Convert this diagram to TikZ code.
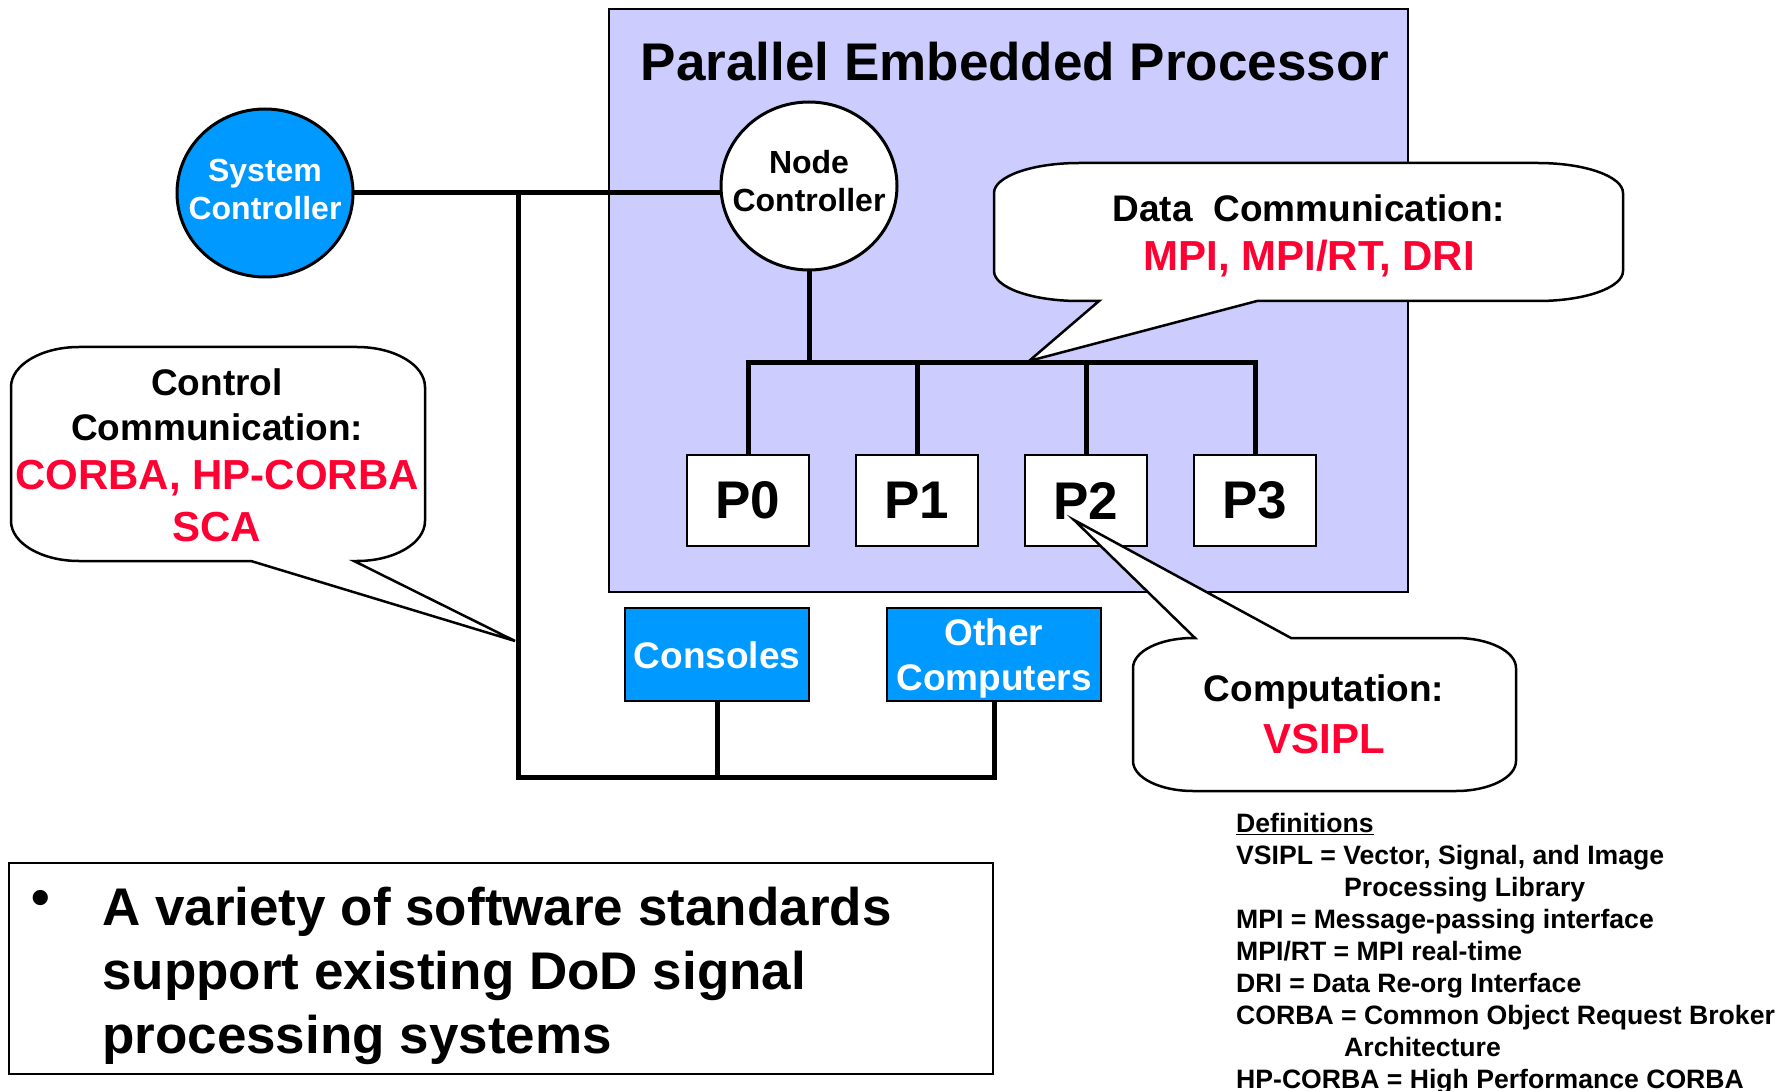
\documentclass[tikz,border=0pt]{standalone}
\usepackage{fontspec}
\setmainfont{Liberation Sans}
\usetikzlibrary{shapes.geometric}

\definecolor{panel}{RGB}{204,204,255}
\definecolor{skyblue}{RGB}{0,153,255}
\definecolor{keyred}{RGB}{255,0,51}

\tikzset{
  bus/.style={line width=5pt, line cap=rect},
  ctrl/.style={ellipse, draw, line width=3pt, minimum width=176pt, minimum height=168pt,
    inner sep=0pt},
  ctrltext/.style={inner sep=0pt, align=center, font=\fontsize{32}{38}\selectfont\bfseries},
  proc/.style={rectangle, draw, line width=2.5pt, fill=white, minimum width=122pt,
    minimum height=91pt, inner sep=0pt, font=\fontsize{53}{60}\selectfont\bfseries},
  host/.style={rectangle, draw, line width=2.5pt, fill=skyblue, inner sep=0pt,
    minimum height=93pt},
  hosttext/.style={inner sep=0pt, align=center, text=white, font=\fontsize{37}{45}\selectfont\bfseries},
  bubble/.style={draw, line width=2.5pt, fill=white, line join=miter},
  lbl/.style={inner sep=0pt, align=center, font=\fontsize{37}{45}\selectfont\bfseries},
  keyw/.style={inner sep=0pt, align=center, text=keyred, font=\fontsize{42}{52}\selectfont\bfseries},
}

\begin{document}
\begin{tikzpicture}[x=1pt, y=-1pt]
\useasboundingbox (0,0) rectangle (1792,1091);
\fill[white] (0,0) rectangle (1792,1091);

% processor panel
\node[draw, line width=2pt, fill=panel, minimum width=799pt, minimum height=583pt,
      inner sep=0pt] (panel) at (1008.5,300.5) {};
\node[inner sep=0pt, font=\fontsize{53}{60}\selectfont\bfseries] (title) at (1015,62)
  {Parallel Embedded Processor};

% controllers
\node[ctrl, fill=skyblue] (sys) at (265,193) {};
\node[ctrltext, text=white] (syslbl) at (265,189) {System\\Controller};
\node[ctrl, fill=white] (nc) at (809,186) {};
\node[ctrltext] (nclbl) at (809,181) {Node\\Controller};

% processors
\node[proc] (p0) at (748,500.5) {P0};
\node[proc] (p1) at (917,500.5) {P1};
\node[proc] (p2) at (1086,500.5) {P2};
\node[proc] (p3) at (1255,500.5) {P3};

% hosts
\node[host, minimum width=184pt] (cons) at (717,654.5) {};
\node[hosttext] (conslbl) at (717,655.5) {Consoles};
\node[host, minimum width=214pt] (other) at (994,654.5) {};
\node[hosttext] (otherlbl) at (994,658.5) {Other\\Computers};

% control network
\coordinate (cbus) at (518,193);
\coordinate (lbus) at (518,777);
\draw[bus] (sys.east |- cbus) -- (nc.west |- cbus);
\draw[bus] (cbus) -- (lbus) -- (other.south |- lbus) -- (other.south);
\draw[bus] (cons.south) -- (cons.south |- lbus);

% data network
\coordinate (dbus) at (809,363);
\draw[bus] (nc.south) -- (dbus);
\draw[bus] (p0.north) -- (p0.north |- dbus) -- (p3.north |- dbus) -- (p3.north);
\draw[bus] (p1.north) -- (p1.north |- dbus);
\draw[bus] (p2.north) -- (p2.north |- dbus);

% control communication callout
\coordinate (ctip) at (515,641);
\draw[bubble] (79,347) -- (357,347) .. controls (394.5,347) and (425,364.9) .. (425,387)
  -- (425,521) .. controls (425,543.1) and (394.5,561) .. (357,561)
  -- (354,561) -- (ctip) -- (251,561) -- (79,561)
  .. controls (41.5,561) and (11,543.1) .. (11,521)
  -- (11,387) .. controls (11,364.9) and (41.5,347) .. (79,347) -- cycle;
\node[lbl] (ctrllbl) at (217,404.5) {Control\\Communication:};
\node[keyw] (ctrlkey) at (217,501) {CORBA, HP-CORBA\\SCA};

% data communication callout
\coordinate (dtip) at (1029,361);
\draw[bubble] (1079,163) -- (1538,163) .. controls (1584.9,163) and (1623,176.4) .. (1623,193)
  -- (1623,271) .. controls (1623,287.6) and (1584.9,301) .. (1538,301)
  -- (1257,301) -- (dtip) -- (1099,301) -- (1079,301)
  .. controls (1032.1,301) and (994,287.6) .. (994,271)
  -- (994,193) .. controls (994,176.4) and (1032.1,163) .. (1079,163) -- cycle;
\node[lbl] (datalbl) at (1309,208) {Data\ \ Communication:};
\node[keyw] (datakey) at (1309,259) {MPI, MPI/RT, DRI};

% computation callout
\coordinate (ptip) at (1074,520);
\draw[bubble] (1193,638) -- (1195,638) -- (ptip) -- (1291,638) -- (1456,638)
  .. controls (1489.1,638) and (1516,651.4) .. (1516,668)
  -- (1516,761) .. controls (1516,777.6) and (1489.1,791) .. (1456,791)
  -- (1193,791) .. controls (1159.9,791) and (1133,777.6) .. (1133,761)
  -- (1133,668) .. controls (1133,651.4) and (1159.9,638) .. (1193,638) -- cycle;
\node[lbl] (complbl) at (1324,692) {Computation:};
\node[keyw] (compkey) at (1324,739) {VSIPL};

% summary box
\node[draw, line width=1.8pt, minimum width=984pt, minimum height=211pt, inner sep=0pt]
  (note) at (501,968.5) {};
\node[inner sep=0pt, font=\fontsize{53}{64}\selectfont\bfseries] (dot) at (41,903) {•};
\node[inner sep=0pt, anchor=north west, align=left,
      font=\fontsize{53}{64}\selectfont\bfseries] (notetext) at (102,887)
  {A variety of software standards\\support existing DoD signal\\processing systems};

% definitions
\node[inner sep=0pt, anchor=north west, align=left,
      font=\fontsize{26.6}{32}\selectfont\bfseries] (defs) at (1236,813)
  {\underline{Definitions}\\
   VSIPL = Vector, Signal, and Image\\
   \hspace*{108pt}Processing Library\\
   MPI = Message-passing interface\\
   MPI/RT = MPI real-time\\
   DRI = Data Re-org Interface\\
   CORBA = Common Object Request Broker\\
   \hspace*{108pt}Architecture\\
   HP-CORBA = High Performance CORBA};
\end{tikzpicture}
\end{document}
